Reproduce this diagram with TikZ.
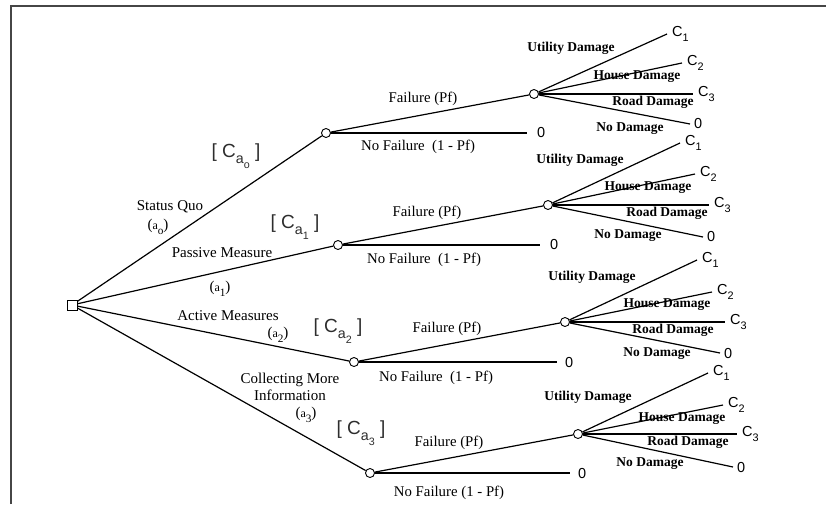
\documentclass[tikz,border=0pt]{standalone}
\usepackage{fontspec}
\setmainfont{Liberation Serif}
\setsansfont{Liberation Sans}
\usepackage{graphicx}
\usepackage{tikz}
\usetikzlibrary{shapes,positioning}
\definecolor{dtgray}{RGB}{70,70,70}
\definecolor{costgray}{RGB}{45,45,45}
\newcommand{\lsub}[1]{\raisebox{-0.32em}{\scalebox{0.75}{#1}}}
\tikzstyle{branch} = [line width=1.2pt,color=black]
\tikzstyle{chance} = [circle,draw,fill=white,inner sep=0pt,minimum size=9pt,line width=0.9pt]
\tikzstyle{decision} = [rectangle,draw,fill=white,inner sep=0pt,minimum size=10pt,line width=0.9pt]
\tikzstyle{actlbl} = [font=\fontsize{15}{17}\selectfont,align=center,inner sep=1pt]
\tikzstyle{faillbl} = [font=\fontsize{14.8}{16}\selectfont,inner sep=1pt]
\tikzstyle{dmglbl} = [font=\fontsize{13.5}{15}\selectfont\bfseries,inner sep=1pt]
\tikzstyle{outc} = [font=\sffamily\fontsize{14.5}{16}\selectfont,anchor=west,inner sep=1pt]
\tikzstyle{costlbl} = [font=\sffamily\fontsize{19}{21}\selectfont,text=costgray,inner sep=1pt]

\begin{document}
\begin{tikzpicture}[x=1pt,y=-1pt]
\useasboundingbox (0,0) rectangle (826,504);
% frame
\draw[line width=2pt,color=dtgray] (11,504) -- (11,6) -- (826,6);

% decision and chance nodes
\node[decision] (root) at (72,305) {};
\node[chance] (n0) at (326,133) {};
\node[chance] (n1) at (338,245) {};
\node[chance] (n2) at (354,362) {};
\node[chance] (n3) at (370,473) {};
\node[chance] (m0) at (534,94) {};
\node[chance] (m1) at (548,205) {};
\node[chance] (m2) at (565,322) {};
\node[chance] (m3) at (578,434) {};

% alternatives
\draw[branch] (root) -- (n0);
\draw[branch] (root) -- (n1);
\draw[branch] (root) -- (n2);
\draw[branch] (root) -- (n3);
\node[actlbl] (sq) at (170,207) {Status Quo};
\node[actlbl] (sqa) at (158,227) {(\scalebox{0.8}{a}\lsub{o})};
\node[costlbl] (sqc) at (236,156) {[ C\lsub{a\lsub{o}} ]};
\node[actlbl] (pm) at (222,253) {Passive Measure};
\node[actlbl] (pma) at (220,289) {(\scalebox{0.8}{a}\lsub{1})};
\node[costlbl] (pmc) at (295,227) {[ C\lsub{a\lsub{1}} ]};
\node[actlbl] (am) at (228,316) {Active Measures};
\node[actlbl] (ama) at (278,335) {(\scalebox{0.8}{a}\lsub{2})};
\node[costlbl] (amc) at (338,331) {[ C\lsub{a\lsub{2}} ]};
\node[actlbl] (ci) at (290,387) {Collecting More\\Information};
\node[actlbl] (cia) at (306,415) {(\scalebox{0.8}{a}\lsub{3})};
\node[costlbl] (cic) at (361,433) {[ C\lsub{a\lsub{3}} ]};

% failure / no failure
\coordinate (e0) at (527,133);
\coordinate (e1) at (540,245);
\coordinate (e2) at (557,362);
\coordinate (e3) at (570,473);
\draw[branch] (n0) -- (m0);
\draw[branch] (n0) -- (e0);
\draw[branch] (n1) -- (m1);
\draw[branch] (n1) -- (e1);
\draw[branch] (n2) -- (m2);
\draw[branch] (n2) -- (e2);
\draw[branch] (n3) -- (m3);
\draw[branch] (n3) -- (e3);
\node[outc,right=9pt of e0] (z0) {0};
\node[outc,right=9pt of e1] (z1) {0};
\node[outc,right=7pt of e2] (z2) {0};
\node[outc,right=7pt of e3] (z3) {0};
\node[faillbl] (f0) at (423,99) {Failure (Pf)};
\node[faillbl] (nf0) at (418,147) {No Failure \ (1 - Pf)};
\node[faillbl] (f1) at (427,213) {Failure (Pf)};
\node[faillbl] (nf1) at (424,260) {No Failure \ (1 - Pf)};
\node[faillbl] (f2) at (447,329) {Failure (Pf)};
\node[faillbl] (nf2) at (436,378) {No Failure \ (1 - Pf)};
\node[faillbl] (f3) at (449,443) {Failure (Pf)};
\node[faillbl] (nf3) at (449,493) {No Failure (1 - Pf)};

% damage outcomes, status quo
\coordinate (e0a) at (667,34);
\coordinate (e0b) at (682,63);
\coordinate (e0c) at (693,94);
\coordinate (e0d) at (690,124);
\draw[branch] (m0) -- (e0a);
\draw[branch] (m0) -- (e0b);
\draw[branch] (m0) -- (e0c);
\draw[branch] (m0) -- (e0d);
\node[outc,right=4pt of e0a] (c0a) {C\lsub{1}};
\node[outc,right=4pt of e0b] (c0b) {C\lsub{2}};
\node[outc,right=4pt of e0c] (c0c) {C\lsub{3}};
\node[outc,right=3pt of e0d] (c0d) {0};
\node[dmglbl] (u0) at (571,48) {Utility Damage};
\node[dmglbl] (h0) at (637,77) {House Damage};
\node[dmglbl] (r0) at (653,102) {Road Damage};
\node[dmglbl] (d0) at (630,129) {No Damage};

% damage outcomes, passive measure
\coordinate (e1a) at (680,143);
\coordinate (e1b) at (695,174);
\coordinate (e1c) at (709,205);
\coordinate (e1d) at (703,237);
\draw[branch] (m1) -- (e1a);
\draw[branch] (m1) -- (e1b);
\draw[branch] (m1) -- (e1c);
\draw[branch] (m1) -- (e1d);
\node[outc,right=4pt of e1a] (c1a) {C\lsub{1}};
\node[outc,right=4pt of e1b] (c1b) {C\lsub{2}};
\node[outc,right=4pt of e1c] (c1c) {C\lsub{3}};
\node[outc,right=3pt of e1d] (c1d) {0};
\node[dmglbl] (u1) at (580,160) {Utility Damage};
\node[dmglbl] (h1) at (648,188) {House Damage};
\node[dmglbl] (r1) at (667,213) {Road Damage};
\node[dmglbl] (d1) at (628,236) {No Damage};

% damage outcomes, active measures
\coordinate (e2a) at (697,260);
\coordinate (e2b) at (712,292);
\coordinate (e2c) at (725,322);
\coordinate (e2d) at (720,353);
\draw[branch] (m2) -- (e2a);
\draw[branch] (m2) -- (e2b);
\draw[branch] (m2) -- (e2c);
\draw[branch] (m2) -- (e2d);
\node[outc,right=4pt of e2a] (c2a) {C\lsub{1}};
\node[outc,right=4pt of e2b] (c2b) {C\lsub{2}};
\node[outc,right=4pt of e2c] (c2c) {C\lsub{3}};
\node[outc,right=3pt of e2d] (c2d) {0};
\node[dmglbl] (u2) at (592,277) {Utility Damage};
\node[dmglbl] (h2) at (667,305) {House Damage};
\node[dmglbl] (r2) at (673,330) {Road Damage};
\node[dmglbl] (d2) at (657,354) {No Damage};

% damage outcomes, collecting information
\coordinate (e3a) at (708,373);
\coordinate (e3b) at (723,405);
\coordinate (e3c) at (737,434);
\coordinate (e3d) at (733,467);
\draw[branch] (m3) -- (e3a);
\draw[branch] (m3) -- (e3b);
\draw[branch] (m3) -- (e3c);
\draw[branch] (m3) -- (e3d);
\node[outc,right=4pt of e3a] (c3a) {C\lsub{1}};
\node[outc,right=4pt of e3b] (c3b) {C\lsub{2}};
\node[outc,right=4pt of e3c] (c3c) {C\lsub{3}};
\node[outc,right=3pt of e3d] (c3d) {0};
\node[dmglbl] (u3) at (588,397) {Utility Damage};
\node[dmglbl] (h3) at (682,419) {House Damage};
\node[dmglbl] (r3) at (688,442) {Road Damage};
\node[dmglbl] (d3) at (650,464) {No Damage};
\end{tikzpicture}
\end{document}
